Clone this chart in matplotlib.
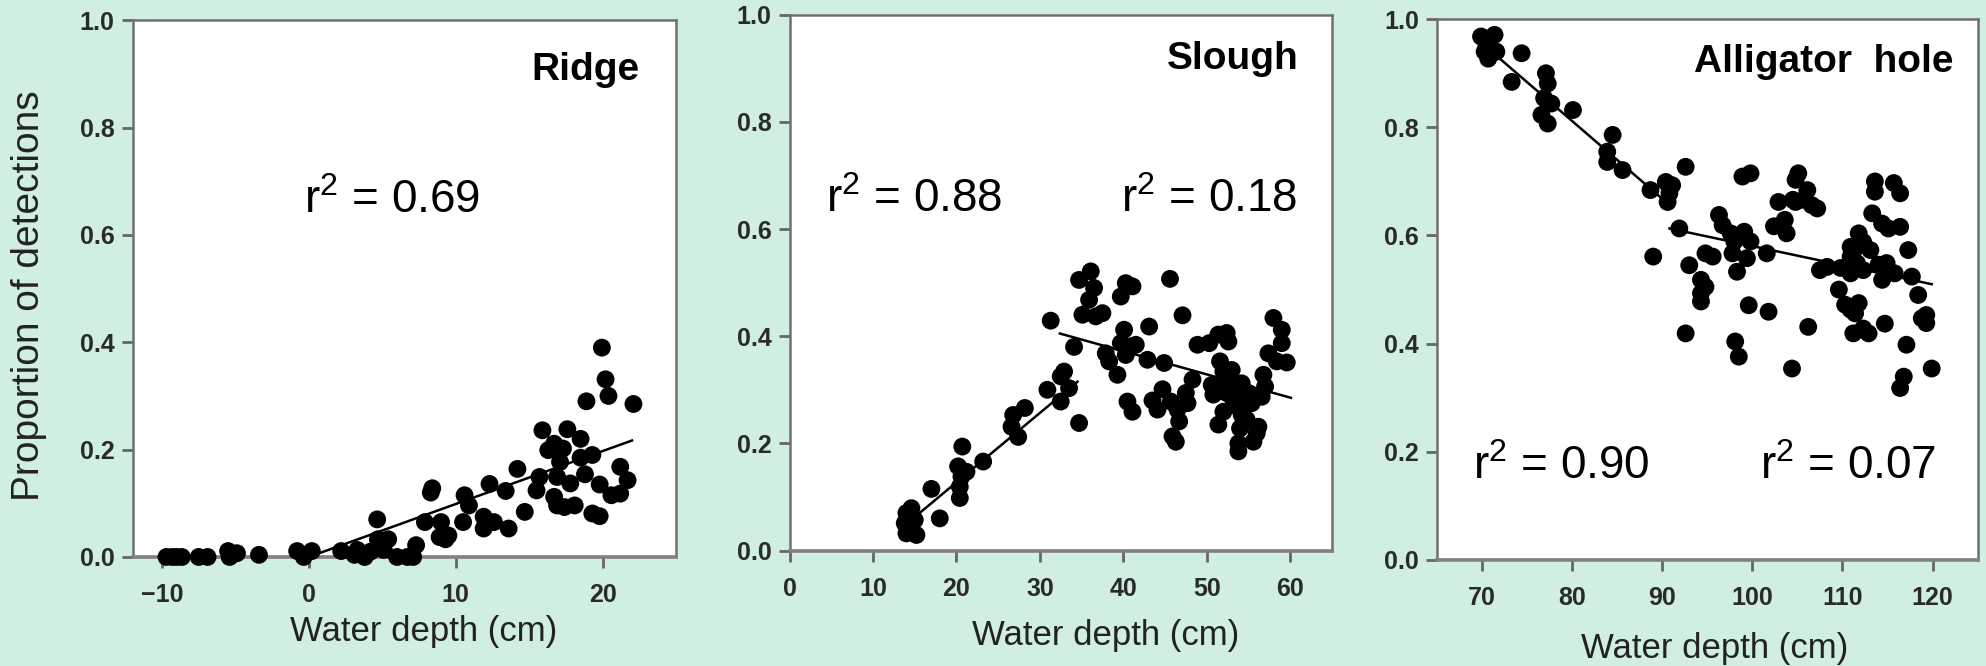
import numpy as np
import matplotlib
matplotlib.use("Agg")
import matplotlib.pyplot as plt

plt.rcParams['font.family'] = ['Liberation Sans', 'DejaVu Sans']
plt.rcParams['mathtext.fontset'] = 'custom'
plt.rcParams['mathtext.rm'] = 'Liberation Sans'
plt.rcParams['mathtext.it'] = 'Liberation Sans'

# Ridge
ridge_x = [-9.7, -9.3, -9.0, -8.65, -7.5, -6.9, -5.5, -4.9, -5.4, -3.4, -0.8, -0.35, 0.2, 2.2,
           3.1, 3.3, 3.6, 3.8, 4.2, 4.65, 4.7, 5.1, 5.4, 6.0, 6.7, 7.1, 7.3, 7.9, 8.3, 8.4, 8.9,
           9.0, 9.3, 9.5, 10.5, 10.6, 10.9, 11.9, 11.9, 12.3, 12.6, 13.4, 13.6, 14.2, 14.7, 15.5,
           15.7, 15.9, 16.3, 16.7, 16.7, 16.9, 16.9, 17.1, 17.3, 17.4, 17.6, 17.8, 18.1, 18.5,
           18.5, 18.8, 18.9, 19.3, 19.3, 19.8, 19.8, 19.95, 20.2, 20.4, 20.6, 21.2, 21.2, 21.7, 22.1]
ridge_y = [0.0, 0.0, 0.0, 0.0, 0.0, 0.0, 0.011, 0.007, 0.0, 0.004, 0.011, 0.0, 0.011, 0.011,
           0.004, 0.013, 0.006, 0.0, 0.01, 0.07, 0.033, 0.013, 0.033, 0.0, 0.0, 0.0, 0.022, 0.065,
           0.12, 0.128, 0.037, 0.065, 0.033, 0.04, 0.065, 0.115, 0.096, 0.075, 0.053, 0.136, 0.065,
           0.123, 0.053, 0.164, 0.084, 0.124, 0.149, 0.236, 0.199, 0.211, 0.112, 0.149, 0.096,
           0.177, 0.202, 0.093, 0.238, 0.137, 0.096, 0.22, 0.185, 0.154, 0.29, 0.19, 0.081, 0.135,
           0.076, 0.39, 0.331, 0.30, 0.115, 0.168, 0.118, 0.143, 0.285]
ridge_fit_x = [0.5, 22.0]
ridge_fit_y = [0.005, 0.217]

# Slough
slough_x = [14.0, 14.6, 13.8, 14.0, 15.2, 15.0, 14.2, 18.0, 17.0, 20.7, 20.2, 20.6, 21.2, 20.4,
            20.4, 23.2, 26.8, 28.2, 26.6, 27.4, 30.9, 32.5, 32.9, 32.5, 33.5, 31.3, 34.1, 34.7,
            34.7, 36.1, 36.5, 35.9, 35.1, 36.7, 37.5, 37.9, 38.3, 39.3, 40.3, 41.1, 39.7, 40.1,
            39.7, 40.9, 41.5, 40.3, 40.5, 41.1, 43.1, 42.9, 44.9, 45.6, 47.1, 44.7, 43.5, 44.1,
            45.7, 46.5, 47.5, 47.7, 46.7, 45.9, 46.3, 48.3, 48.9, 50.3, 51.4, 52.4, 52.6, 51.6,
            52.0, 53.0, 50.6, 50.8, 52.0, 53.2, 54.2, 52.0, 53.6, 54.4, 55.0, 55.4, 56.8, 57.0,
            56.6, 51.4, 54.0, 53.8, 53.8, 55.6, 56.2, 56.0, 54.2, 54.8, 58.0, 59.0, 59.0, 57.4,
            58.4, 59.6, 52.4, 53.2]
slough_y = [0.070, 0.079, 0.051, 0.032, 0.029, 0.057, 0.042, 0.060, 0.115, 0.194, 0.157, 0.138,
            0.147, 0.119, 0.098, 0.166, 0.253, 0.266, 0.231, 0.212, 0.300, 0.278, 0.334, 0.325,
            0.303, 0.429, 0.380, 0.238, 0.505, 0.521, 0.490, 0.468, 0.440, 0.437, 0.443, 0.368,
            0.353, 0.328, 0.499, 0.493, 0.474, 0.412, 0.387, 0.381, 0.384, 0.365, 0.278, 0.259,
            0.418, 0.356, 0.350, 0.507, 0.439, 0.301, 0.280, 0.263, 0.278, 0.263, 0.294, 0.275,
            0.241, 0.213, 0.203, 0.319, 0.384, 0.387, 0.403, 0.406, 0.390, 0.353, 0.334, 0.337,
            0.309, 0.291, 0.312, 0.306, 0.312, 0.259, 0.269, 0.281, 0.294, 0.275, 0.328, 0.306,
            0.287, 0.235, 0.228, 0.200, 0.185, 0.203, 0.231, 0.219, 0.253, 0.244, 0.434, 0.412,
            0.387, 0.368, 0.353, 0.351, 0.294, 0.281]
slough_fit1_x = [15.5, 34.5]
slough_fit1_y = [0.069, 0.315]
slough_fit2_x = [32.4, 60.1]
slough_fit2_y = [0.405, 0.285]

# Alligator hole
gator_x = [69.9, 71.4, 70.5, 70.3, 71.6, 70.7, 74.4, 73.3, 77.1, 77.3, 76.9, 77.7, 76.6, 77.3,
           80.1, 84.5, 83.9, 83.9, 85.6, 88.7, 92.6, 90.4, 91.1, 90.8, 90.6, 91.9, 89.0, 93.0,
           94.8, 95.6, 94.3, 94.8, 94.3, 94.3, 92.6, 96.3, 96.7, 97.6, 99.1, 98.0, 99.8, 97.8,
           99.4, 98.3, 98.9, 99.8, 101.6, 99.6, 101.8, 98.1, 98.5, 104.4, 106.2, 102.9, 104.5,
           103.6, 103.8, 102.4, 105.1, 104.8, 106.1, 105.7, 106.6, 107.2, 104.8, 107.5, 108.3,
           109.8, 109.6, 110.3, 110.9, 111.8, 111.4, 111.2, 112.3, 112.9, 114.7, 113.6, 113.6,
           115.7, 116.4, 113.3, 111.8, 114.4, 115.1, 116.4, 110.9, 111.6, 112.3, 113.1, 110.9,
           111.6, 110.9, 112.3, 114.0, 114.9, 114.4, 115.8, 117.3, 117.7, 118.4, 118.8, 119.3,
           119.3, 117.1, 116.8, 116.4, 119.9]
gator_y = [0.968, 0.971, 0.952, 0.940, 0.940, 0.927, 0.937, 0.884, 0.900, 0.881, 0.854, 0.844,
           0.823, 0.807, 0.832, 0.786, 0.755, 0.736, 0.721, 0.684, 0.727, 0.699, 0.693, 0.678,
           0.662, 0.613, 0.561, 0.545, 0.567, 0.561, 0.518, 0.505, 0.493, 0.478, 0.419, 0.638,
           0.619, 0.604, 0.607, 0.589, 0.589, 0.567, 0.558, 0.533, 0.709, 0.715, 0.567, 0.471,
           0.459, 0.404, 0.376, 0.354, 0.431, 0.662, 0.666, 0.629, 0.604, 0.617, 0.715, 0.703,
           0.684, 0.666, 0.656, 0.650, 0.662, 0.536, 0.542, 0.540, 0.500, 0.472, 0.463, 0.475,
           0.456, 0.419, 0.428, 0.419, 0.437, 0.700, 0.681, 0.697, 0.678, 0.641, 0.604, 0.622,
           0.613, 0.616, 0.579, 0.579, 0.588, 0.573, 0.561, 0.549, 0.530, 0.536, 0.546, 0.549,
           0.518, 0.530, 0.573, 0.524, 0.490, 0.447, 0.453, 0.438, 0.398, 0.339, 0.318, 0.354]
gator_fit1_x = [71.5, 90.0]
gator_fit1_y = [0.934, 0.668]
gator_fit2_x = [90.8, 119.9]
gator_fit2_y = [0.613, 0.510]

bg = '#d0efe0'
fig = plt.figure(figsize=(19.86, 6.66), dpi=100, facecolor=bg)

ax1 = fig.add_axes([0.0668, 0.1637, 0.2736, 0.806])
ax2 = fig.add_axes([0.3976, 0.1734, 0.2730, 0.8045])
ax3 = fig.add_axes([0.7235, 0.1592, 0.2723, 0.812])


def style(ax, xlim, xticks):
    ax.set_xlim(*xlim)
    ax.set_ylim(0, 1.0)
    ax.set_xticks(xticks)
    ax.set_yticks(np.arange(0, 1.01, 0.2))
    ax.set_yticklabels(['%.1f' % v for v in np.arange(0, 1.01, 0.2)])
    for s in ax.spines.values():
        s.set_color('#707070')
        s.set_linewidth(1.8)
    ax.spines['bottom'].set_linewidth(2.6)
    ax.spines['bottom'].set_color('#808080')
    ax.tick_params(direction='out', length=8, width=2, color='#666666',
                   labelsize=18, labelcolor='#2a2a2a', pad=5)
    ax.tick_params(axis='x', pad=11)
    for lab in ax.get_xticklabels() + ax.get_yticklabels():
        lab.set_fontweight('bold')


def points(ax, x, y):
    ax.scatter(x, y, s=165, color='black', edgecolors='none', zorder=5, clip_on=False)


r2_size = 33

style(ax1, (-12, 25), [-10, 0, 10, 20])
points(ax1, ridge_x, ridge_y)
ax1.plot(ridge_fit_x, ridge_fit_y, color='black', lw=1.8, zorder=4)
ax1.text(22.5, 0.908, 'Ridge', ha='right', va='center', fontsize=28, fontweight='bold')
ax1.text(-0.35, 0.64, 'r$^2$ = 0.69', ha='left', va='baseline', fontsize=r2_size)
ax1.text(-0.19, 0.487, 'Proportion of detections', transform=ax1.transAxes, rotation=90,
         ha='center', va='center', fontsize=28, color='#222222')
ax1.text(0.536, -0.138, 'Water depth (cm)', transform=ax1.transAxes,
         ha='center', va='center', fontsize=25, color='#222222')

style(ax2, (0, 65), [0, 10, 20, 30, 40, 50, 60])
points(ax2, slough_x, slough_y)
ax2.plot(slough_fit1_x, slough_fit1_y, color='black', lw=1.8, zorder=4)
ax2.plot(slough_fit2_x, slough_fit2_y, color='black', lw=1.8, zorder=4)
ax2.text(61.0, 0.917, 'Slough', ha='right', va='center', fontsize=28, fontweight='bold')
ax2.text(4.4, 0.631, 'r$^2$ = 0.88', ha='left', va='baseline', fontsize=r2_size)
ax2.text(60.9, 0.631, 'r$^2$ = 0.18', ha='right', va='baseline', fontsize=r2_size)
ax2.text(0.583, -0.158, 'Water depth (cm)', transform=ax2.transAxes,
         ha='center', va='center', fontsize=25, color='#222222')

style(ax3, (65, 125), [70, 80, 90, 100, 110, 120])
points(ax3, gator_x, gator_y)
ax3.plot(gator_fit1_x, gator_fit1_y, color='black', lw=1.8, zorder=4)
ax3.plot(gator_fit2_x, gator_fit2_y, color='black', lw=1.8, zorder=4)
ax3.text(122.3, 0.921, 'Alligator  hole', ha='right', va='center', fontsize=28, fontweight='bold')
ax3.text(69.0, 0.15, 'r$^2$ = 0.90', ha='left', va='baseline', fontsize=r2_size)
ax3.text(120.4, 0.15, 'r$^2$ = 0.07', ha='right', va='baseline', fontsize=r2_size)
ax3.text(0.513, -0.163, 'Water depth (cm)', transform=ax3.transAxes,
         ha='center', va='center', fontsize=25, color='#222222')

fig.savefig('out.png', dpi=100, facecolor=bg)
